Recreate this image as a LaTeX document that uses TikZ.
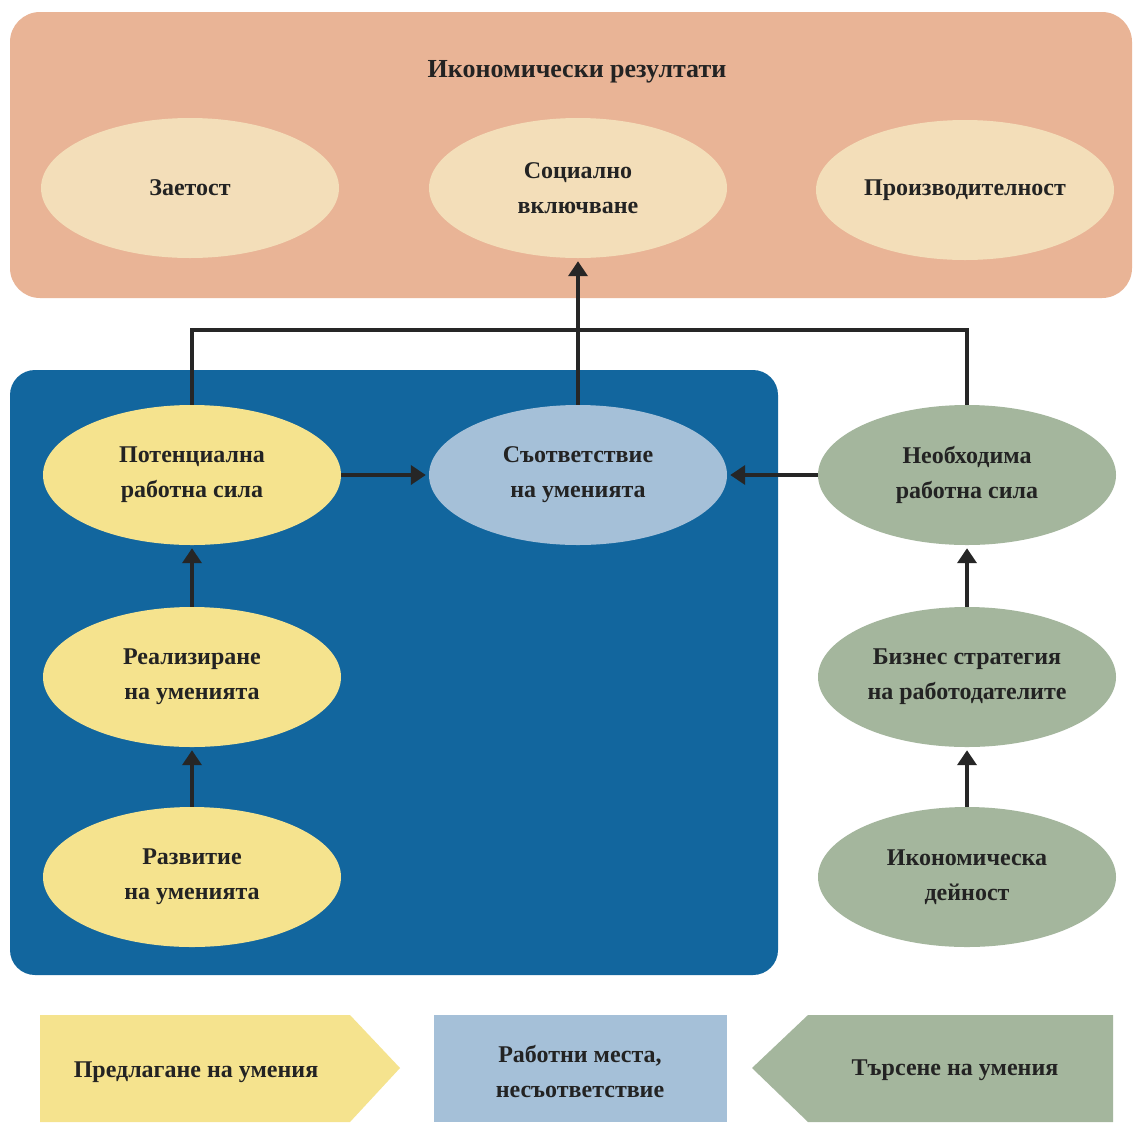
\documentclass[tikz,border=0pt]{standalone}
\usepackage{fontspec}
\setmainfont{Liberation Serif}
\usetikzlibrary{shapes.geometric,arrows.meta}
\definecolor{topbg}{RGB}{233,180,150}
\definecolor{cream}{RGB}{243,222,185}
\definecolor{bluebg}{RGB}{18,102,158}
\definecolor{yel}{RGB}{245,227,142}
\definecolor{lblue}{RGB}{165,192,216}
\definecolor{grn}{RGB}{164,182,157}
\definecolor{txt}{RGB}{35,35,35}
\tikzset{
  ell/.style={ellipse, minimum width=298pt, minimum height=140pt, inner sep=0pt,
    align=center, font=\bfseries\fontsize{24}{35}\selectfont, text=txt},
  lbl/.style={align=center, font=\bfseries\fontsize{24}{35}\selectfont, text=txt},
  conn/.style={line width=4.5pt, draw=black!85},
  arr/.style={conn, -{Triangle[width=19pt,length=15pt]}, shorten >=3pt}
}
\begin{document}
\begin{tikzpicture}[x=1pt,y=-1pt]
\useasboundingbox (0,0) rectangle (1134,1122);
\fill[white] (0,0) rectangle (1134,1122);
% top panel
\fill[topbg, rounded corners=30pt] (10,12) rectangle (1132,298);
\node[lbl, font=\bfseries\fontsize{26}{35}\selectfont] (title) at (577,72) {Икономически резултати};
\node[ell, fill=cream] (emp) at (190,188) {Заетост};
\node[ell, fill=cream] (soc) at (578,188) {Социално\\включване};
\node[ell, fill=cream] (prod) at (965,190) {Производителност};
% blue panel
\fill[bluebg, rounded corners=25pt] (10,370) rectangle (778,975);
\node[ell, fill=yel] (pot) at (192,475) {Потенциална\\работна сила};
\node[ell, fill=lblue] (match) at (578,475) {Съответствие\\на уменията};
\node[ell, fill=yel] (real) at (192,677) {Реализиране\\на уменията};
\node[ell, fill=yel] (dev) at (192,877) {Развитие\\на уменията};
\node[ell, fill=grn] (need) at (967,475) {Необходима\\работна сила};
\node[ell, fill=grn] (biz) at (967,677) {Бизнес стратегия\\на работодателите};
\node[ell, fill=grn] (eco) at (967,877) {Икономическа\\дейност};
% connectors
\coordinate (j) at (578,330);
\draw[conn] (pot.north) |- (j) -| (need.north);
\draw[arr] (match.north) -- (soc.south);
\draw[arr] (pot.east) -- (match.west);
\draw[arr] (need.west) -- (match.east);
\draw[arr] (dev.north) -- (real.south);
\draw[arr] (real.north) -- (pot.south);
\draw[arr] (eco.north) -- (biz.south);
\draw[arr] (biz.north) -- (need.south);
% legend
\fill[yel] (40,1015) -- (350,1015) -- (400,1068) -- (350,1122) -- (40,1122) -- cycle;
\fill[lblue] (434,1015) rectangle (727,1122);
\fill[grn] (752,1068) -- (808,1015) -- (1113,1015) -- (1113,1122) -- (808,1122) -- cycle;
\node[lbl] (sup) at (196,1072) {Предлагане на умения};
\node[lbl] (mis) at (580,1072) {Работни места,\\несъответствие};
\node[lbl] (dem) at (955,1070) {Търсене на умения};
\end{tikzpicture}
\end{document}
